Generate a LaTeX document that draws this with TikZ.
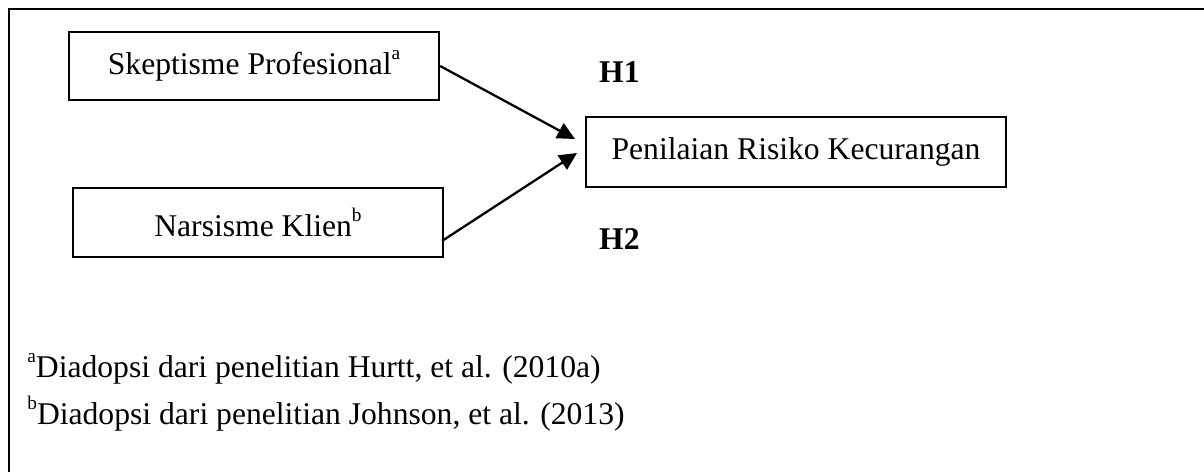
\documentclass[tikz,border=0pt]{standalone}
\usepackage{fontspec}
\setmainfont{Liberation Serif}
\usetikzlibrary{arrows.meta}
\newcommand{\upmark}[1]{\raisebox{0.48em}{\fontsize{11}{11}\selectfont #1}}

\begin{document}
\begin{tikzpicture}[x=0.02cm, y=-0.02cm,
    font=\fontsize{18}{22}\selectfont,
    varbox/.style={draw, line width=1.3pt, inner sep=0pt},
    link/.style={line width=1.3pt, -{Triangle[length=10pt,width=9.5pt]}}]
    \useasboundingbox (0,0) rectangle (1204,472);
    % frame
    \draw [line width=1.6pt] (9,472) -- (9,9) -- (1204,9);
    % variables
    \node[varbox, minimum width=7.4cm, minimum height=1.36cm] (skep) at (254,66) {Skeptisme Profesional\upmark{a}};
    \node[varbox, minimum width=7.4cm, minimum height=1.38cm] (nars) at (258,222.5) {Narsisme Klien\upmark{b}};
    \node[varbox, minimum width=8.4cm, minimum height=1.4cm] (pen) at (796,152) {Penilaian Risiko Kecurangan};
    \coordinate (out2) at (442,241);
    \coordinate (in1) at (575,139);
    \coordinate (in2) at (577,153);
    \draw[link] (skep.east) -- (in1);
    \draw[link] (out2) -- (in2);
    % hypotheses
    \node[anchor=base west, font=\fontsize{18}{22}\selectfont\bfseries] (h1) at (593,83) {H1};
    \node[anchor=base west, font=\fontsize{18}{22}\selectfont\bfseries] (h2) at (593,250) {H2};
    % notes
    \node[anchor=base west, inner sep=0pt] (noteA) at (27,378) {\upmark{a}Diadopsi dari penelitian Hurtt, et al. (2010a)};
    \node[anchor=base west, inner sep=0pt] (noteB) at (27,425) {\upmark{b}Diadopsi dari penelitian Johnson, et al. (2013)};
\end{tikzpicture}
\end{document}
